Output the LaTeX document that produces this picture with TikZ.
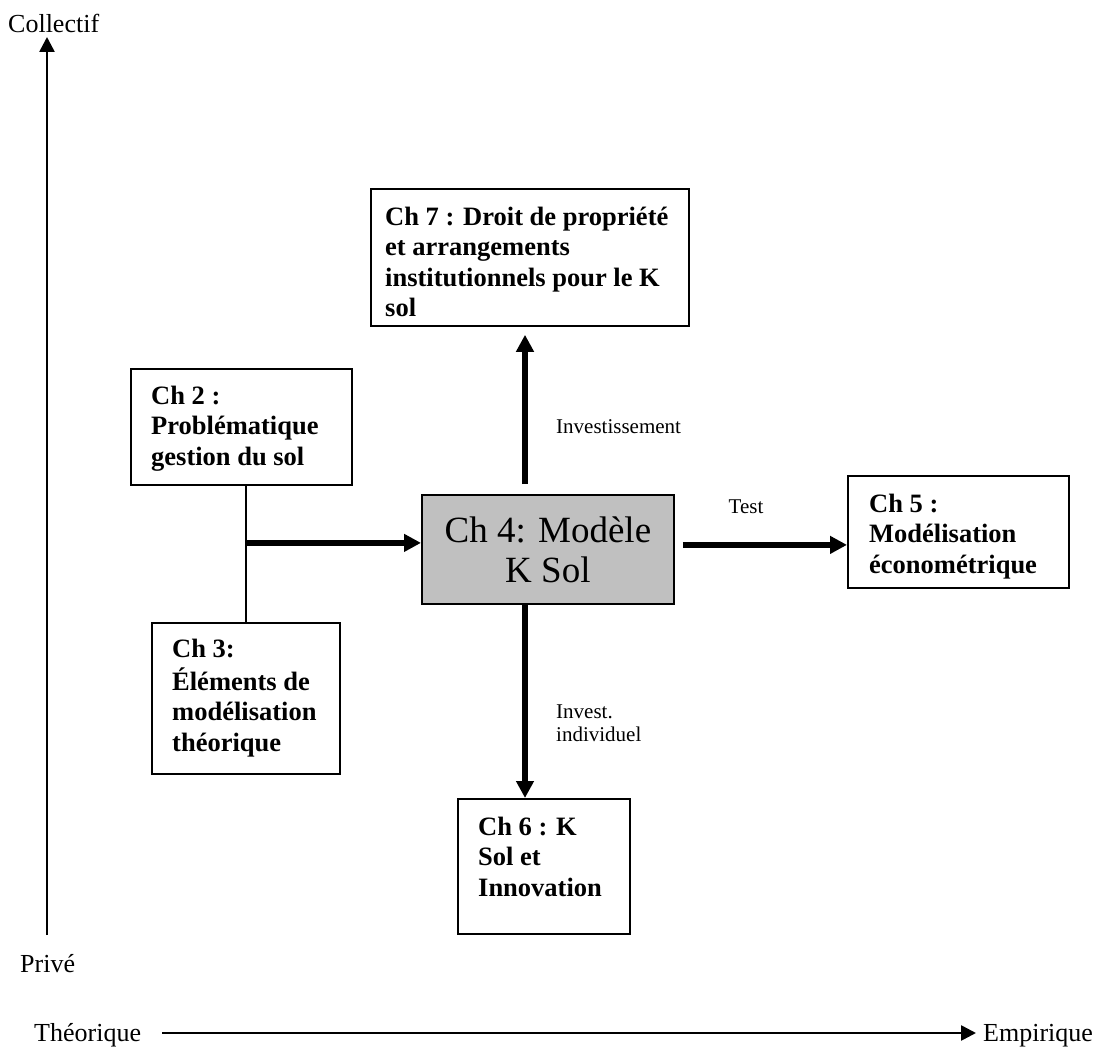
\documentclass[tikz,border=0pt]{standalone}
\usepackage{fontspec}
\setmainfont{Liberation Serif}
\usetikzlibrary{arrows.meta,calc}
\definecolor{kgray}{RGB}{192,192,192}
\begin{document}
\begin{tikzpicture}[x=1pt,y=-1pt,
  box/.style={draw=black,line width=1.8pt,anchor=north west,inner sep=0pt},
  boxtext/.style={anchor=north west,inner sep=0pt,align=left,
    font=\bfseries\fontsize{26.5}{30.5}\selectfont},
  flow/.style={line width=5.5pt,-{Triangle[length=17pt,width=17pt]}},
  axis/.style={line width=2.6pt,-{Triangle[length=15pt,width=15pt]}},
  link/.style={line width=1.5pt},
  axislabel/.style={inner sep=0pt,anchor=base west,font=\fontsize{26}{30}\selectfont},
  note/.style={inner sep=0pt,anchor=west,align=left,font=\fontsize{21}{23}\selectfont}
]
\path[use as bounding box] (0,0) rectangle (1098,1048);

% chapter boxes
\node[box,minimum width=318pt,minimum height=137pt] (ch7) at (370,188) {};
\node[box,minimum width=221pt,minimum height=116pt] (ch2) at (130,368) {};
\node[box,minimum width=188pt,minimum height=151pt] (ch3) at (151,622) {};
\node[box,minimum width=221pt,minimum height=112pt] (ch5) at (847,475) {};
\node[box,minimum width=172pt,minimum height=135pt] (ch6) at (457,798) {};
\node[box,fill=kgray,minimum width=252pt,minimum height=109pt,align=center,
      font=\fontsize{37}{40}\selectfont] (ch4) at (421,494) {Ch 4: Modèle\\K Sol};

% chapter titles
\node[boxtext] (ch7t) at ($(ch7.north west)+(15,15.65)$)
  {\strut Ch 7 : Droit de propriété\\et arrangements\\institutionnels pour le K\\sol};
\node[boxtext] (ch2t) at ($(ch2.north west)+(21,14.65)$)
  {\strut Ch 2 :\\Problématique\\gestion du sol};
\node[boxtext] (ch3t) at ($(ch3.north west)+(21,13.65)$)
  {\strut Ch 3:\\Éléments de\\modélisation\\théorique};
\node[boxtext] (ch5t) at ($(ch5.north west)+(22,15.65)$)
  {\strut Ch 5 :\\Modélisation\\économétrique};
\node[boxtext] (ch6t) at ($(ch6.north west)+(21,15.65)$)
  {\strut Ch 6 : K\\Sol et\\Innovation};

% connectors
\draw[link] (ch2.south -| ch3.north) -- (ch3.north);
\coordinate (mid) at ([yshift=6.5pt]ch4.west);
\draw[flow] (ch3.north |- mid) -- (mid);
\draw[flow,shorten <=10pt,shorten >=8pt] ([xshift=104pt]ch4.north west) -- ([xshift=155pt]ch7.south west);
\draw[flow] ([xshift=104pt]ch4.south west) -- ([xshift=68pt]ch6.north west);
\coordinate (t0) at ([yshift=4.5pt]ch4.east);
\draw[flow,shorten <=8pt] (t0) -- (t0 -| ch5.west);

% connector labels
\node[note] (inv) at (556,427) {Investissement};
\node[note,anchor=center] (test) at (746,507) {Test};
\node[note] (indiv) at (556,723) {Invest.\\individuel};

% axes
\coordinate (vb) at (47,935);
\coordinate (vt) at (47,37);
\draw[axis] (vb) -- (vt);
\coordinate (hl) at (162,1033);
\coordinate (hr) at (976,1033);
\draw[axis] (hl) -- (hr);
\node[axislabel] (collectif) at (8,33) {Collectif};
\node[axislabel] (prive) at (20,972) {Privé};
\node[axislabel] (theo) at (34,1041) {Théorique};
\node[axislabel] (emp) at (983,1041) {Empirique};
\end{tikzpicture}
\end{document}
